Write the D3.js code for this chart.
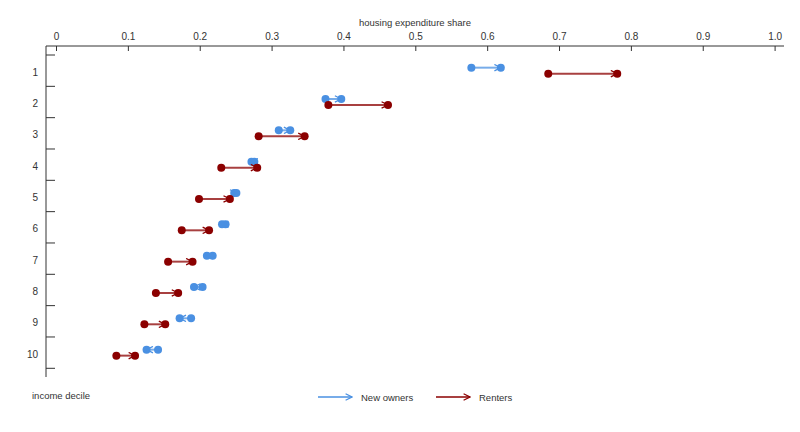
<!DOCTYPE html>
<html>
<head>
<meta charset="utf-8">
<script src="https://cdn.jsdelivr.net/npm/d3@7"></script>
<style>
  html, body { margin: 0; padding: 0; background: #fff; }
  svg { display: block; font-family: "Liberation Sans", Arial, sans-serif; }
</style>
</head>
<body>
<svg id="chart" width="800" height="432"></svg>
<script>
const deciles = ["1","2","3","4","5","6","7","8","9","10"];
const ownersStart = [0.578, 0.375, 0.310, 0.276, 0.248, 0.236, 0.218, 0.204, 0.188, 0.142];
const ownersEnd   = [0.619, 0.397, 0.326, 0.272, 0.251, 0.231, 0.210, 0.192, 0.172, 0.126];
const rentersStart = [0.685, 0.379, 0.282, 0.230, 0.199, 0.175, 0.156, 0.139, 0.123, 0.084];
const rentersEnd   = [0.781, 0.462, 0.346, 0.280, 0.242, 0.213, 0.190, 0.170, 0.152, 0.110];
const xTicks = [0, 0.1, 0.2, 0.3, 0.4, 0.5, 0.6, 0.7, 0.8, 0.9, 1.0];
const xTickLabels = ["0","0.1","0.2","0.3","0.4","0.5","0.6","0.7","0.8","0.9","1.0"];
const seriesNames = ["New owners", "Renters"];
const seriesColors = ["#4a90e2", "#8b0000"];

const svg = d3.select("#chart");
const x = d3.scaleLinear().domain([0, 1]).range([56, 774.6]);
const y = d3.scaleBand().domain(deciles).range([55, 368.3]);
const axisLeftX = 46, axisTop = 46, axisBottom = 377, axisRight = 784;
const textColor = "#333";

// defs: arrow markers
const defs = svg.append("defs");
seriesColors.forEach((c, i) => {
  defs.append("marker")
    .attr("id", "arrow" + i)
    .attr("viewBox", "0 0 10 10")
    .attr("refX", 9).attr("refY", 5)
    .attr("markerWidth", 8).attr("markerHeight", 8)
    .attr("markerUnits", "userSpaceOnUse")
    .attr("orient", "auto")
    .append("path")
    .attr("d", "M1,1 L9,5 L1,9")
    .attr("fill", "none")
    .attr("stroke", c)
    .attr("stroke-width", 1.6);
});

// X axis (top)
const xAxis = d3.axisTop(x).tickValues(xTicks).tickFormat((d, i) => xTickLabels[i]).tickSizeInner(-5).tickSizeOuter(0).tickPadding(6);
const gx = svg.append("g").attr("transform", `translate(0,${axisTop})`).call(xAxis);
gx.select(".domain").remove();
gx.append("line").attr("x1", axisLeftX).attr("x2", axisRight).attr("y1", 0).attr("y2", 0).attr("stroke", textColor);
gx.selectAll(".tick line").attr("stroke", textColor);
gx.selectAll(".tick text").attr("fill", textColor).attr("font-size", 10).attr("font-family", "Liberation Sans, Arial, sans-serif");

svg.append("text").attr("x", 415).attr("y", 26).attr("text-anchor", "middle")
  .attr("font-size", 9.5).attr("fill", textColor).text("housing expenditure share");

// Y axis (left)
const gy = svg.append("g").attr("transform", `translate(${axisLeftX},0)`);
gy.append("line").attr("x1", 0).attr("x2", 0).attr("y1", axisTop).attr("y2", axisBottom).attr("stroke", textColor);
const bandEdges = deciles.map(d => y(d)).concat([y(deciles[deciles.length - 1]) + y.bandwidth()]);
gy.selectAll("line.tk").data(bandEdges).enter().append("line").attr("class", "tk")
  .attr("x1", 0).attr("x2", 9).attr("y1", d => d).attr("y2", d => d).attr("stroke", textColor);
gy.selectAll("text.lbl").data(deciles).enter().append("text").attr("class", "lbl")
  .attr("x", -8).attr("y", d => y(d) + y.bandwidth() / 2 + 5)
  .attr("text-anchor", "end").attr("font-size", 10).attr("fill", textColor).text(d => d);

svg.append("text").attr("x", 32).attr("y", 399).attr("font-size", 9.5).attr("fill", textColor).text("income decile");

// data marks
const series = [
  { name: seriesNames[0], start: ownersStart, end: ownersEnd, off: -3, i: 0 },
  { name: seriesNames[1], start: rentersStart, end: rentersEnd, off: 3, i: 1 }
];
series.forEach(s => {
  const g = svg.append("g");
  const rows = deciles.map((d, k) => ({ d, a: s.start[k], b: s.end[k] }));
  const cy = r => y(r.d) + y.bandwidth() / 2 + s.off;
  g.selectAll("line").data(rows).enter().append("line")
    .attr("x1", r => x(r.a)).attr("x2", r => x(r.b))
    .attr("y1", cy).attr("y2", cy)
    .attr("stroke", seriesColors[s.i]).attr("stroke-width", 2).attr("stroke-opacity", 0.75);
  g.selectAll("circle.s").data(rows).enter().append("circle").attr("class", "s")
    .attr("cx", r => x(r.a)).attr("cy", cy).attr("r", 4).attr("fill", seriesColors[s.i]);
  g.selectAll("circle.e").data(rows).enter().append("circle").attr("class", "e")
    .attr("cx", r => x(r.b)).attr("cy", cy).attr("r", 4).attr("fill", seriesColors[s.i]);
  g.selectAll("path.arr").data(rows).enter().append("path").attr("class", "arr")
    .attr("d", r => `M${x(r.a)},${cy(r)}L${x(r.b)},${cy(r)}`)
    .attr("fill", "none").attr("stroke", "none")
    .attr("marker-end", `url(#arrow${s.i})`);
});

// legend
const legend = svg.append("g");
const legX = [318, 436];
series.forEach((s, k) => {
  legend.append("line").attr("x1", legX[k]).attr("x2", legX[k] + 34).attr("y1", 397).attr("y2", 397)
    .attr("stroke", seriesColors[k]).attr("stroke-width", 1.3).attr("marker-end", `url(#arrow${k})`);
  legend.append("text").attr("x", legX[k] + 43).attr("y", 401).attr("font-size", 9.5)
    .attr("fill", textColor).text(s.name);
});
</script>
</body>
</html>
